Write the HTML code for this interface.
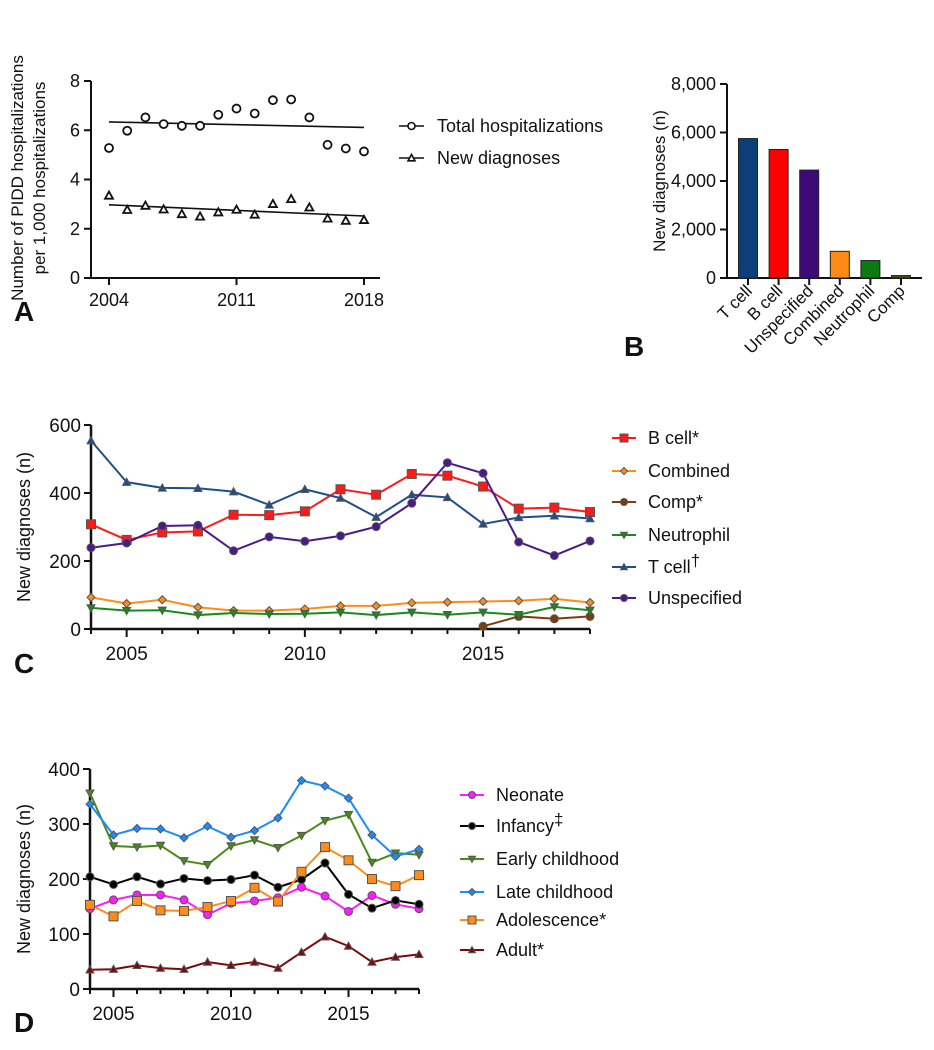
<!DOCTYPE html>
<html><head><meta charset="utf-8"><style>
body{margin:0;background:#fff}
svg{display:block;font-family:"Liberation Sans",Arial,sans-serif}
</style></head><body>
<svg id="s" width="934" height="1050" viewBox="0 0 934 1050"></svg>
<script>
// Panel A data
const yearsA=[2004,2005,2006,2007,2008,2009,2010,2011,2012,2013,2014,2015,2016,2017,2018];
const totalHosp=[5.28,5.98,6.52,6.25,6.18,6.18,6.63,6.88,6.68,7.22,7.25,6.52,5.41,5.26,5.14];
const newDiag=[3.35,2.77,2.94,2.79,2.60,2.50,2.67,2.78,2.58,3.01,3.21,2.87,2.42,2.33,2.36];
const ticksA=[0,2,4,6,8];
const xTicksA=[2004,2011,2018];
// Panel B data
const catsB=["T cell","B cell","Unspecified","Combined","Neutrophil","Comp"];
const valsB=[5750,5300,4450,1100,720,100];
const ticksB=[0,2000,4000,6000,8000];
const tickLabelsB=["0","2,000","4,000","6,000","8,000"];
// Panel C data
const yearsC=[2004,2005,2006,2007,2008,2009,2010,2011,2012,2013,2014,2015,2016,2017,2018];
const cBcell=[308,262,284,287,336,335,346,411,395,456,451,419,354,357,344];
const cCombined=[93,75,86,64,54,54,59,68,68,77,79,81,83,89,78];
const cComp=[null,null,null,null,null,null,null,null,null,null,null,8,37,30,37];
const cNeutro=[62,54,55,41,47,44,45,49,41,49,42,49,42,65,55];
const cTcell=[554,432,415,414,404,365,411,385,329,395,387,309,328,333,325];
const cUnspec=[239,253,303,305,230,271,258,274,301,370,489,458,256,216,259];
const ticksC=[0,200,400,600];
const xTicksC=[2005,2010,2015];
// Panel D data
const dNeonate=[146,162,171,171,162,135,156,160,166,185,169,141,170,154,146];
const dInfancy=[204,190,204,191,201,197,199,207,185,199,229,172,147,161,154];
const dEarly=[356,260,258,261,233,226,260,271,257,279,306,317,230,247,244];
const dLate=[336,280,292,291,275,296,276,288,311,379,369,347,280,241,254];
const dAdol=[153,132,160,143,142,149,160,184,159,213,258,234,200,187,207];
const dAdult=[35,36,43,38,36,49,43,49,38,67,95,78,49,58,63];
const ticksD=[0,100,200,300,400];

const S=document.getElementById('s');const NS='http://www.w3.org/2000/svg';
function E(t,a,p){const e=document.createElementNS(NS,t);for(const k in a)e.setAttribute(k,a[k]);(p||S).appendChild(e);return e;}
function T(x,y,s,str,anchor,extra){const e=E('text',Object.assign({x:x,y:y,'font-size':s,'text-anchor':anchor||'start',fill:'#111'},extra||{}));e.textContent=str;return e;}
function lin(d0,d1,r0,r1){return v=>r0+(v-d0)*(r1-r0)/(d1-d0);}

function marker(g,shape,x,y,fill,stroke,sz){
  let m;
  if(shape==='circle')m=E('circle',{cx:x,cy:y,r:sz,fill:fill,stroke:stroke,'stroke-width':1},g);
  else if(shape==='square')m=E('rect',{x:x-sz,y:y-sz,width:2*sz,height:2*sz,fill:fill,stroke:stroke,'stroke-width':1},g);
  else if(shape==='tri')m=E('polygon',{points:`${x},${y-sz} ${x-sz},${y+sz*0.8} ${x+sz},${y+sz*0.8}`,fill:fill,stroke:stroke,'stroke-width':1},g);
  else if(shape==='itri')m=E('polygon',{points:`${x},${y+sz} ${x-sz},${y-sz*0.8} ${x+sz},${y-sz*0.8}`,fill:fill,stroke:stroke,'stroke-width':1},g);
  else m=E('polygon',{points:`${x},${y-sz} ${x+sz},${y} ${x},${y+sz} ${x-sz},${y}`,fill:fill,stroke:stroke,'stroke-width':1},g);
  return m;
}

// ===== Panel A =====
(function(){
  const g=E('g',{});
  const X=lin(2004,2018,109,364),Y=lin(0,8,278,81);
  E('line',{x1:91,y1:81,x2:91,y2:278,stroke:'#111','stroke-width':2},g);
  E('line',{x1:90,y1:278,x2:380,y2:278,stroke:'#111','stroke-width':2},g);
  ticksA.forEach(v=>{E('line',{x1:84,y1:Y(v),x2:91,y2:Y(v),stroke:'#111','stroke-width':2},g);T(80,Y(v)+6,18,String(v),'end');});
  xTicksA.forEach(v=>{E('line',{x1:X(v),y1:278,x2:X(v),y2:285,stroke:'#111','stroke-width':2},g);T(X(v),306,18,String(v),'middle');});
  const t1=T(0,0,17,'Number of PIDD hospitalizations','middle',{transform:'translate(23,178) rotate(-90)'});
  
  T(0,0,17,'per 1,000 hospitalizations','middle',{transform:'translate(45,178) rotate(-90)'});
  function reg(ys){const n=yearsA.length;let mx=0,my=0;yearsA.forEach((x,i)=>{mx+=x;my+=ys[i];});mx/=n;my/=n;let a=0,b=0;yearsA.forEach((x,i)=>{a+=(x-mx)*(ys[i]-my);b+=(x-mx)*(x-mx);});const k=a/b;return x=>my+k*(x-mx);}
  [[totalHosp,'circle'],[newDiag,'tri']].forEach(([ys,sh])=>{
    const f=reg(ys);
    const l=E('line',{x1:X(2004),y1:Y(f(2004)),x2:X(2018),y2:Y(f(2018)),stroke:'#111','stroke-width':1.6},g);
    
    ys.forEach((v,i)=>{const m=marker(g,sh,X(yearsA[i]),Y(v),'#fff','#111',4);m.setAttribute('stroke-width',1.8);
      });
  });
  [['Total hospitalizations','circle',126],['New diagnoses','tri',158]].forEach(([n,sh,y])=>{
    E('line',{x1:399,y1:y,x2:424,y2:y,stroke:'#111','stroke-width':1.6},g);
    const m=marker(g,sh,411.5,y,'#fff','#111',3.5);m.setAttribute('stroke-width',1.6);
    const t=T(437,y+6,18,n);
  });
  T(14,321,28,'A','start',{'font-weight':'bold'});
})();

// ===== Panel B =====
(function(){
  const g=E('g',{});
  const Y=lin(0,8000,278,84);const cols=['#0c3e7a','#ff0000','#3e0a78','#ff8a14','#0b7a12','#4a4a10'];
  const X=i=>748+i*30.6;
  E('line',{x1:727,y1:84,x2:727,y2:278,stroke:'#111','stroke-width':2},g);
  E('line',{x1:726,y1:278,x2:922,y2:278,stroke:'#111','stroke-width':2},g);
  ticksB.forEach((v,i)=>{E('line',{x1:720,y1:Y(v),x2:727,y2:Y(v),stroke:'#111','stroke-width':2},g);T(716,Y(v)+6,18,tickLabelsB[i],'end');});
  T(0,0,17,'New diagnoses (n)','middle',{transform:'translate(665,181) rotate(-90)'});
  catsB.forEach((c,i)=>{
    const r=E('rect',{x:X(i)-9.5,y:Y(valsB[i]),width:19,height:278-Y(valsB[i]),fill:cols[i],stroke:'#222','stroke-width':1},g);
    
    E('line',{x1:X(i),y1:278,x2:X(i),y2:285,stroke:'#111','stroke-width':2},g);
    T(0,0,17,c,'end',{transform:`translate(${X(i)+5},${292}) rotate(-45)`});
  });
  T(624,356,28,'B','start',{'font-weight':'bold'});
})();

function lineChart(name,X,Y,years,series,x0,x1,yTop,yBot,ticks,xt,title,titleX,legX,legY,letter,letterY){
  const g=E('g',{});
  E('line',{x1:x0,y1:yTop,x2:x0,y2:yBot,stroke:'#111','stroke-width':2.5},g);
  E('line',{x1:x0-1,y1:yBot,x2:x1,y2:yBot,stroke:'#111','stroke-width':2.5},g);
  ticks.forEach(v=>{E('line',{x1:x0-7,y1:Y(v),x2:x0,y2:Y(v),stroke:'#111','stroke-width':2},g);T(x0-10,Y(v)+7,19,String(v),'end');});
  years.forEach(v=>{E('line',{x1:X(v),y1:yBot,x2:X(v),y2:yBot+(xt.includes(v)?8:5),stroke:'#111','stroke-width':2},g);});
  xt.forEach(v=>T(X(v),yBot+31,19,String(v),'middle'));
  T(0,0,18,title,'middle',{transform:`translate(${titleX},${(yTop+yBot)/2}) rotate(-90)`});
  series.forEach(s=>{
    const pts=[];s.v.forEach((v,i)=>{if(v!==null)pts.push([X(years[i]),Y(v)]);});
    const p=E('polyline',{points:pts.map(q=>q.join(',')).join(' '),fill:'none',stroke:s.c,'stroke-width':2},g);
    
    pts.forEach(q=>{const m=marker(g,s.sh,q[0],q[1],s.c,'#555',s.sh==='square'?4.5:4);
      });
  });
  series.forEach((s,i)=>{
    const y=legY[i];
    E('line',{x1:legX,y1:y,x2:legX+24,y2:y,stroke:s.c,'stroke-width':2},g);
    marker(g,s.sh,legX+12,y,s.c,'#555',s.sh==='square'?4:3.5);
    const t=T(legX+36,y+6,18,s.n);
    if(s.sup){const ts=E('tspan',{dy:-7,'font-size':17},t);ts.textContent=s.sup;}
  });
  T(14,letterY,28,letter,'start',{'font-weight':'bold'});
}

lineChart('panel-c-line-chart',lin(2004,2018,91,590),lin(0,600,629,425),yearsC,[
 {id:'b-cell',n:'B cell*',v:cBcell,c:'#ff1a1a',sh:'square'},
 {id:'combined',n:'Combined',v:cCombined,c:'#ff8c1a',sh:'diamond'},
 {id:'comp',n:'Comp*',v:cComp,c:'#7a3d0a',sh:'circle'},
 {id:'neutrophil',n:'Neutrophil',v:cNeutro,c:'#1a8a1a',sh:'itri'},
 {id:'t-cell',n:'T cell',sup:'†',v:cTcell,c:'#1f4e8c',sh:'tri'},
 {id:'unspecified',n:'Unspecified',v:cUnspec,c:'#4a1a8a',sh:'circle'}
],91,590,425,629,ticksC,xTicksC,'New diagnoses (n)',30,612,[438,471,502,535,567,598],'C',673);

lineChart('panel-d-line-chart',lin(2004,2018,90,419),lin(0,400,989,769),yearsC,[
 {id:'neonate',n:'Neonate',v:dNeonate,c:'#ff1aff',sh:'circle'},
 {id:'infancy',n:'Infancy',sup:'‡',v:dInfancy,c:'#000000',sh:'circle'},
 {id:'early-childhood',n:'Early childhood',v:dEarly,c:'#4a8a1a',sh:'itri'},
 {id:'late-childhood',n:'Late childhood',v:dLate,c:'#1a8cff',sh:'diamond'},
 {id:'adolescence',n:'Adolescence*',v:dAdol,c:'#ff8c1a',sh:'square'},
 {id:'adult',n:'Adult*',v:dAdult,c:'#7a0a0a',sh:'tri'}
],90,419,769,989,ticksD,xTicksC,'New diagnoses (n)',30,460,[795,826,859,892,920,950],'D',1032);
</script>
</body></html>
